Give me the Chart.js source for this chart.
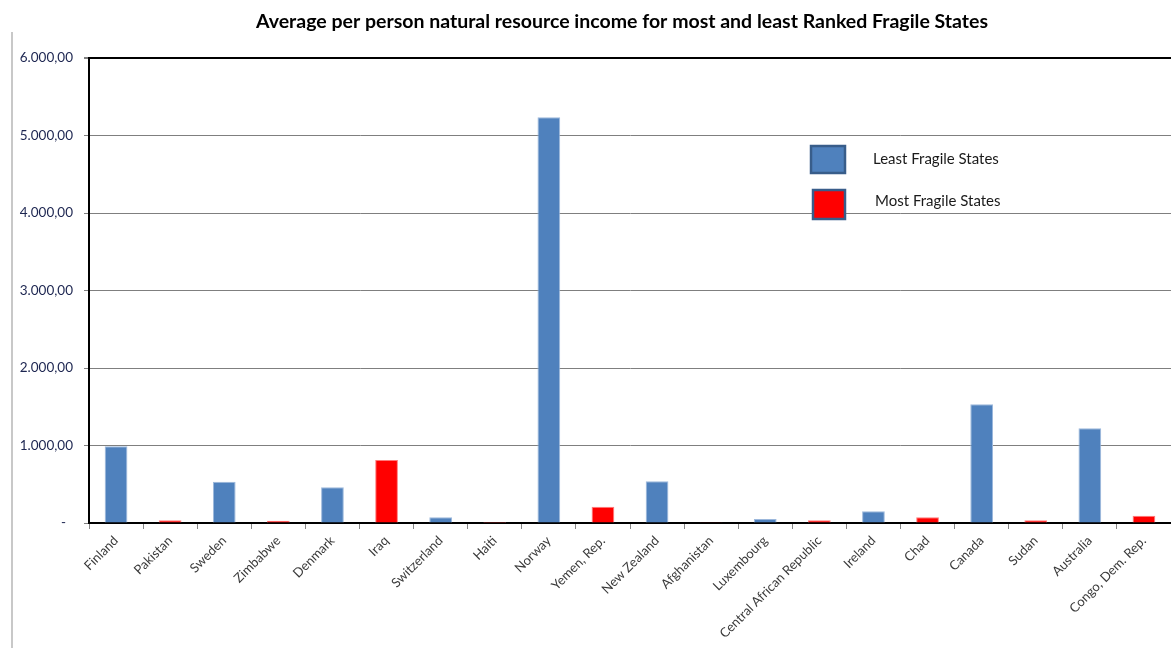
<!DOCTYPE html>
<html>
<head>
<meta charset="utf-8">
<script src="https://cdn.jsdelivr.net/npm/chart.js@4/dist/chart.umd.min.js"></script>
<style>
  html, body { margin: 0; padding: 0; background: #fff; overflow: hidden; }
  #fragileChart { display: block; }
</style>
</head>
<body>
<canvas id="fragileChart" width="1171" height="648"></canvas>
<script>
// categories, alternating least / most fragile
var countries = ["Finland", "Pakistan", "Sweden", "Zimbabwe", "Denmark", "Iraq", "Switzerland", "Haiti",
    "Norway", "Yemen, Rep.", "New Zealand", "Afghanistan", "Luxembourg", "Central African Republic",
    "Ireland", "Chad", "Canada", "Sudan", "Australia", "Congo, Dem. Rep."];
var leastFragile = [990, null, 533, null, 460, null, 73, null, 5235, null, 538, null, 52, null, 151, null, 1531, null, 1222, null];
var mostFragile = [null, 35, null, 30, null, 813, null, 1, null, 210, null, 2, null, 35, null, 73, null, 37, null, 94];
var yTicks = [0, 1000, 2000, 3000, 4000, 5000, 6000];

var chartTitle = 'Average per person natural resource income for most and least Ranked Fragile States';
var fontName = 'Lato, "Open Sans", sans-serif';

function fmtNumber(v) {
    if (v === 0) return '-  '; // excel accounting style dash, sits left of the numbers
    return v.toLocaleString('de-DE', { minimumFractionDigits: 2, maximumFractionDigits: 2 });
}

// title, in-plot legend and the frame line on the left
var decorPlugin = {
    id: 'decor',
    afterDraw: function(chart) {
        var c = chart.ctx;
        c.save();
        c.strokeStyle = '#c8c8c8';
        c.lineWidth = 2;
        c.beginPath();
        c.moveTo(12, 32);
        c.lineTo(12, 648);
        c.stroke();

        c.fillStyle = '#000';
        c.font = 'bold 19.5px ' + fontName;
        c.textAlign = 'center';
        c.textBaseline = 'middle';
        c.fillText(chartTitle, 622, 22);

        var boxes = [{ x: 811, y: 146, w: 34, h: 27 }, { x: 813, y: 190, w: 32, h: 29 }];
        c.textAlign = 'left';
        c.font = '15px ' + fontName;
        chart.data.datasets.forEach(function(ds, i) {
            var b = boxes[i];
            c.fillStyle = ds.backgroundColor;
            c.strokeStyle = '#385d8a';
            c.lineWidth = 2.5;
            c.fillRect(b.x, b.y, b.w, b.h);
            c.strokeRect(b.x, b.y, b.w, b.h);
            c.fillStyle = '#1a1a1a';
            c.fillText(ds.label, b.x + b.w + 28 + i * 2, b.y + b.h / 2 - i * 3);
        });
        c.restore();
    }
};

var ctx = document.getElementById('fragileChart').getContext('2d');
var chart = new Chart(ctx, {
    type: 'bar',
    data: {
        labels: countries,
        datasets: [{
            label: 'Least Fragile States',
            backgroundColor: '#4f81bd',
            borderColor: '#9cb8dc',
            borderWidth: 1,
            data: leastFragile
        }, {
            label: 'Most Fragile States',
            backgroundColor: '#ff0000',
            borderColor: '#ff7a7a',
            borderWidth: 1,
            data: mostFragile
        }]
    },
    plugins: [decorPlugin],
    options: {
        responsive: false,
        animation: false,
        devicePixelRatio: 1,
        layout: { padding: { top: 58, left: 0, right: 0, bottom: 0 } },
        datasets: { bar: { barPercentage: 0.42, categoryPercentage: 1 } },
        plugins: {
            legend: { display: false },
            title: { display: false },
            tooltip: { enabled: false }
        },
        scales: {
            x: {
                stacked: true,
                afterFit: function(scale) { scale.height = 125; },
                grid: {
                    offset: true,
                    drawOnChartArea: false,
                    color: '#868686',
                    tickLength: 6
                },
                border: { color: '#000', width: 2 },
                ticks: {
                    minRotation: 45,
                    maxRotation: 45,
                    autoSkip: false,
                    padding: 4,
                    color: '#3a3a3a',
                    font: { family: fontName, size: 13 }
                }
            },
            y: {
                stacked: true,
                min: 0,
                max: 6000,
                afterFit: function(scale) { scale.width = 89; },
                afterBuildTicks: function(scale) {
                    scale.ticks = yTicks.map(function(v) { return { value: v }; });
                },
                grid: {
                    color: function(c) { return c.tick && c.tick.value === 6000 ? '#000' : '#7f7f7f'; },
                    lineWidth: function(c) { return c.tick && c.tick.value === 6000 ? 2 : 1; },
                    tickLength: 5,
                    tickColor: '#7f7f7f'
                },
                border: { color: '#000', width: 2 },
                ticks: {
                    padding: 11,
                    color: '#1c2550',
                    font: { family: fontName, size: 13.5 },
                    callback: function(v) { return fmtNumber(v); }
                }
            }
        }
    }
});
</script>
</body>
</html>
